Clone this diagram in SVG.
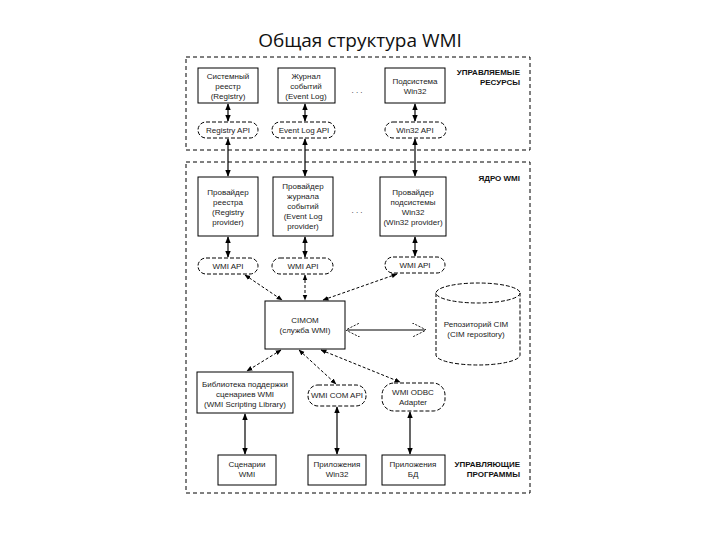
<svg xmlns="http://www.w3.org/2000/svg" width="720" height="540" viewBox="0 0 720 540">
<defs>
<marker id="a" viewBox="0 0 10 10" refX="9" refY="5" markerWidth="6" markerHeight="6" orient="auto-start-reverse"><path d="M0,1 L10,5 L0,9 z" fill="#000"/></marker>
<marker id="o" viewBox="0 0 10 10" refX="9" refY="5" markerWidth="12" markerHeight="12" orient="auto-start-reverse"><path d="M0,0 L10,5 L0,10" fill="none" stroke="#000" stroke-width="0.6" stroke-dasharray="1.5,1"/></marker>
<style>
.t{font-family:"Liberation Sans",Arial,sans-serif;font-size:8px;fill:#222;text-anchor:middle}
.b{font-family:"Liberation Sans",Arial,sans-serif;font-size:8px;font-weight:bold;fill:#111;text-anchor:end}
.r{fill:#fff;stroke:#000;stroke-width:1}
.p{fill:#fff;stroke:#000;stroke-width:1;stroke-dasharray:4,2}
.s{stroke:#000;stroke-width:1.2;fill:none;marker-start:url(#a);marker-end:url(#a)}
.d{stroke:#000;stroke-width:1;fill:none;stroke-dasharray:3,2;marker-start:url(#a);marker-end:url(#a)}
.reg{fill:none;stroke:#000;stroke-dasharray:4,3}
</style>
</defs>
<rect width="720" height="540" fill="#fff"/>
<text x="360" y="47" font-family="'Open Sans','Liberation Sans',sans-serif" font-size="19" text-anchor="middle" fill="#111">Общая структура WMI</text>
<rect class="reg" x="186" y="57" width="344" height="93"/>
<rect class="reg" x="186" y="162" width="344" height="331"/>
<text class="b" x="520" y="75">УПРАВЛЯЕМЫЕ</text><text class="b" x="520" y="85">РЕСУРСЫ</text>
<text class="b" x="520" y="181">ЯДРО WMI</text>
<text class="b" x="520" y="467">УПРАВЛЯЮЩИЕ</text><text class="b" x="520" y="477">ПРОГРАММЫ</text>
<text class="t" x="357" y="93">. . .</text><text class="t" x="357" y="213">. . .</text>
<g id="connectors">
<line class="s" x1="228" y1="104" x2="228" y2="121"/>
<line class="s" x1="228" y1="139" x2="228" y2="176"/>
<line class="s" x1="305" y1="104" x2="305" y2="121"/>
<line class="s" x1="305" y1="139" x2="305" y2="176"/>
<line class="s" x1="415" y1="104" x2="415" y2="121"/>
<line class="s" x1="415" y1="139" x2="415" y2="176"/>
<line class="s" x1="228" y1="237" x2="228" y2="257"/>
<line class="s" x1="305" y1="237" x2="305" y2="257"/>
<line class="s" x1="415" y1="237" x2="415" y2="256"/>
<line class="d" x1="245" y1="275" x2="282" y2="300"/>
<line class="d" x1="305" y1="275" x2="305" y2="300"/>
<line class="d" x1="397" y1="274" x2="323" y2="300"/>
<line class="d" x1="281" y1="350" x2="247" y2="371"/>
<line class="d" x1="299" y1="350" x2="336" y2="384"/>
<line class="d" x1="321" y1="350" x2="400" y2="382"/>
<line class="s" x1="347" y1="330" x2="425" y2="330" style="marker-start:url(#o);marker-end:url(#o)"/>
<line class="s" x1="245" y1="414" x2="245" y2="454"/>
<line class="s" x1="337" y1="407" x2="337" y2="454"/>
<line class="s" x1="410" y1="412" x2="410" y2="454"/>
</g>
<g id="n-registry"><rect class="r" x="198" y="68" width="60" height="35"/><text class="t" x="228" y="79">Системный</text><text class="t" x="228" y="89">реестр</text><text class="t" x="228" y="99">(Registry)</text></g>
<g id="n-eventlog"><rect class="r" x="278" y="68" width="57" height="35"/><text class="t" x="306" y="79">Журнал</text><text class="t" x="306" y="89">событий</text><text class="t" x="306" y="99">(Event Log)</text></g>
<g id="n-win32"><rect class="r" x="385" y="68" width="60" height="35"/><text class="t" x="415" y="84">Подсистема</text><text class="t" x="415" y="94">Win32</text></g>
<g id="n-regapi"><rect class="p" x="198" y="122" width="60" height="16" rx="8"/><text class="t" x="228" y="133">Registry API</text></g>
<g id="n-evapi"><rect class="p" x="272" y="122" width="63" height="16" rx="8"/><text class="t" x="304" y="133">Event Log API</text></g>
<g id="n-w32api"><rect class="p" x="385" y="122" width="61" height="16" rx="8"/><text class="t" x="415" y="133">Win32 API</text></g>
<g id="n-regprov"><rect class="r" x="198" y="177" width="60" height="59"/><text class="t" x="228" y="195">Провайдер</text><text class="t" x="228" y="205">реестра</text><text class="t" x="228" y="215">(Registry</text><text class="t" x="228" y="225">provider)</text></g>
<g id="n-evprov"><rect class="r" x="273" y="177" width="60" height="59"/><text class="t" x="303" y="189">Провайдер</text><text class="t" x="303" y="199">журнала</text><text class="t" x="303" y="209">событий</text><text class="t" x="303" y="219">(Event Log</text><text class="t" x="303" y="229">provider)</text></g>
<g id="n-w32prov"><rect class="r" x="380" y="177" width="66" height="59"/><text class="t" x="413" y="195">Провайдер</text><text class="t" x="413" y="205">подсистемы</text><text class="t" x="413" y="215">Win32</text><text class="t" x="413" y="225">(Win32 provider)</text></g>
<g id="n-wmiapi1"><rect class="p" x="198" y="258" width="60" height="16" rx="8"/><text class="t" x="228" y="269">WMI API</text></g>
<g id="n-wmiapi2"><rect class="p" x="272" y="258" width="61" height="16" rx="8"/><text class="t" x="303" y="269">WMI API</text></g>
<g id="n-wmiapi3"><rect class="p" x="385" y="257" width="60" height="16" rx="8"/><text class="t" x="415" y="268">WMI API</text></g>
<g id="n-cimom"><rect class="r" x="265" y="301" width="80" height="48"/><text class="t" x="305" y="323">CIMOM</text><text class="t" x="305" y="333">(служба WMI)</text></g>
<g id="n-repo"><path class="p" d="M436,293 V355 A42,10 0 0 0 520,355 V293"/><ellipse class="p" cx="478" cy="293" rx="42" ry="10"/><text class="t" x="476" y="327">Репозиторий CIM</text><text class="t" x="476" y="337">(CIM repository)</text></g>
<g id="n-lib"><rect class="r" x="197" y="372" width="96" height="41"/><text class="t" x="245" y="387">Библиотека поддержки</text><text class="t" x="245" y="397">сценариев WMI</text><text class="t" x="245" y="407">(WMI Scripting Library)</text></g>
<g id="n-comapi"><rect class="p" x="308" y="385" width="58" height="21" rx="10"/><text class="t" x="337" y="398">WMI COM API</text></g>
<g id="n-odbc"><rect class="p" x="382" y="383" width="63" height="28" rx="12"/><text class="t" x="413" y="395">WMI ODBC</text><text class="t" x="413" y="405">Adapter</text></g>
<g id="n-scripts"><rect class="r" x="218" y="455" width="58" height="30"/><text class="t" x="247" y="467">Сценарии</text><text class="t" x="247" y="477">WMI</text></g>
<g id="n-apps"><rect class="r" x="308" y="455" width="58" height="30"/><text class="t" x="337" y="467">Приложения</text><text class="t" x="337" y="477">Win32</text></g>
<g id="n-db"><rect class="r" x="382" y="455" width="63" height="30"/><text class="t" x="413" y="467">Приложения</text><text class="t" x="413" y="477">БД</text></g>
</svg>
